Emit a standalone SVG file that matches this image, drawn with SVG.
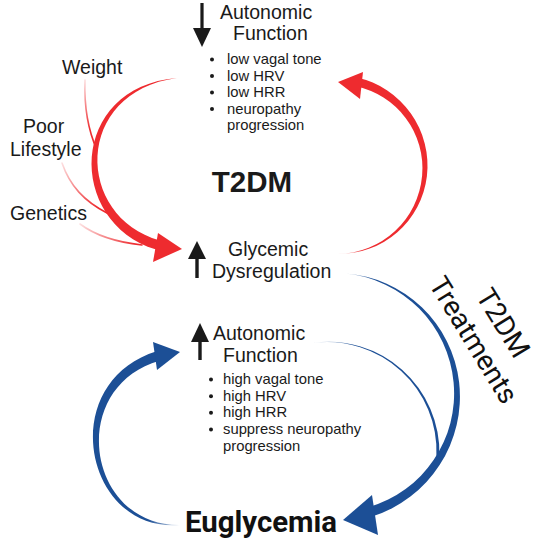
<svg xmlns="http://www.w3.org/2000/svg" width="539" height="550" viewBox="0 0 539 550">
<defs>
<style>
.t{font-family:"Liberation Sans",Arial,sans-serif;fill:#1a1a1a}
.lg{font-size:19.5px}
.sm{font-size:14.8px}
.bd{font-weight:bold}
.rb{font-family:Roboto,"Liberation Sans",sans-serif;fill:#111}
.ar{fill:#1a1a1a}
.bul{fill:#1a1a1a}
.red{fill:#EE2B2F}
.blue{fill:#1C4F96}
.thin{fill:none;stroke-width:1.6;stroke-linecap:round}
</style>
<linearGradient id="gRedR" gradientUnits="userSpaceOnUse" x1="336" y1="255" x2="362" y2="248"><stop offset="0" stop-color="#EE2B2F" stop-opacity="0.1"/><stop offset="1" stop-color="#EE2B2F"/></linearGradient>
<linearGradient id="gBlueL" gradientUnits="userSpaceOnUse" x1="182" y1="526" x2="148" y2="522"><stop offset="0" stop-color="#1C4F96" stop-opacity="0.1"/><stop offset="1" stop-color="#1C4F96"/></linearGradient>
<linearGradient id="gBlueBig" gradientUnits="userSpaceOnUse" x1="343" y1="274" x2="372" y2="281"><stop offset="0" stop-color="#1C4F96" stop-opacity="0.15"/><stop offset="1" stop-color="#1C4F96"/></linearGradient>
<linearGradient id="gBlueIn" gradientUnits="userSpaceOnUse" x1="311" y1="343" x2="350" y2="347"><stop offset="0" stop-color="#1C4F96" stop-opacity="0.1"/><stop offset="1" stop-color="#1C4F96"/></linearGradient>
<linearGradient id="gW" gradientUnits="userSpaceOnUse" x1="85" y1="80" x2="90" y2="130"><stop offset="0" stop-color="#EE2B2F" stop-opacity="0.15"/><stop offset="1" stop-color="#EE2B2F"/></linearGradient>
<linearGradient id="gL" gradientUnits="userSpaceOnUse" x1="62" y1="163" x2="98" y2="207"><stop offset="0" stop-color="#EE2B2F" stop-opacity="0.15"/><stop offset="1" stop-color="#EE2B2F"/></linearGradient>
<linearGradient id="gG" gradientUnits="userSpaceOnUse" x1="80" y1="224" x2="135" y2="244"><stop offset="0" stop-color="#EE2B2F" stop-opacity="0.15"/><stop offset="1" stop-color="#EE2B2F"/></linearGradient>
</defs>
<rect width="539" height="550" fill="#fff"/>

<g id="connectors">
  <path class="red" d="M177,78 C68,87 66,222 156.1,249.6 L159.9,240.4 C75,217 73,92 177,78 Z"/>
  <polygon class="red" points="182,249 158,233 153,262"/>
  <path class="thin" stroke="url(#gW)" d="M85,80 C84,108 88,130 97,150"/>
  <path class="thin" stroke="url(#gL)" d="M62,163 C70,186 84,201 107,213"/>
  <path class="thin" stroke="url(#gG)" d="M80,224 C96,236 115,242 142,245"/>
  <path fill="url(#gRedR)" d="M338,254 A88.2,88.2 0 0 0 426.9,176.3 A90.5,90.5 0 0 0 357,77.5 L355.2,86.3 A83.6,83.6 0 0 1 422.1,175.8 A85.8,85.8 0 0 1 338,254 Z"/>
  <polygon class="red" points="338,82 363,72 360,99"/>
  <path fill="url(#gBlueBig)" d="M345.6,273.5 A123.4,123.4 0 0 1 459.1,382 A125.9,125.9 0 0 1 372.1,516.5 L369.2,506.9 A118.1,118.1 0 0 0 453.6,382.5 A120.6,120.6 0 0 0 345.6,273.5 Z"/>
  <path fill="url(#gBlueIn)" d="M313,343 A110.4,110.4 0 0 1 402.1,369.7 A111.2,111.2 0 0 1 439.4,455.9 L436.4,455.8 A108.8,108.8 0 0 0 401.1,370.9 A109.6,109.6 0 0 0 313,343 Z"/>
  <polygon class="blue" points="343,520 372,495 378,535"/>
  <path fill="url(#gBlueL)" d="M180,525 C84,533 55,383 156.6,351.2 L159.4,360.8 C66,388 87,526 180,525 Z"/>
  <polygon class="blue" points="180,352 153,342 157,370"/>
</g>

<g id="node-autonomic-low">
  <rect class="ar" x="200.4" y="3" width="3.2" height="27"/>
  <polygon class="ar" points="193,28 211,28 202,47"/>
  <text class="t lg" x="220" y="19">Autonomic</text>
  <text class="t lg" x="233" y="40">Function</text>
  <circle class="bul" cx="212" cy="59.5" r="2"/>
  <circle class="bul" cx="212" cy="76" r="2"/>
  <circle class="bul" cx="212" cy="92.5" r="2"/>
  <circle class="bul" cx="212" cy="109" r="2"/>
  <text class="t sm" x="227" y="64">low vagal tone</text>
  <text class="t sm" x="227" y="80.5">low HRV</text>
  <text class="t sm" x="227" y="97">low HRR</text>
  <text class="t sm" x="227" y="113.5">neuropathy</text>
  <text class="t sm" x="227" y="130">progression</text>
</g>

<g id="node-weight"><text class="t lg" x="62" y="74">Weight</text></g>
<g id="node-lifestyle">
  <text class="t lg" x="23" y="133">Poor</text>
  <text class="t lg" x="10" y="156">Lifestyle</text>
</g>
<g id="node-genetics"><text class="t lg" x="10" y="220">Genetics</text></g>

<g id="node-t2dm"><text class="t bd" x="252" y="192" font-size="29.5" text-anchor="middle">T2DM</text></g>

<g id="node-glycemic">
  <polygon class="ar" points="197,241 188,259 206,259"/>
  <rect class="ar" x="195.3" y="258" width="3.4" height="20"/>
  <text class="t lg" x="228" y="256">Glycemic</text>
  <text class="t lg" x="212" y="278">Dysregulation</text>
</g>

<g id="node-treatments" transform="translate(465.5,345) rotate(58.5)">
  <text class="rb" x="1" y="-34" font-size="28" text-anchor="middle">T2DM</text>
  <text class="rb" x="0" y="0" font-size="28" text-anchor="middle">Treatments</text>
</g>

<g id="node-autonomic-high">
  <polygon class="ar" points="200,323 191,342 209,342"/>
  <rect class="ar" x="198.3" y="341" width="3.4" height="19"/>
  <text class="t lg" x="213" y="340">Autonomic</text>
  <text class="t lg" x="223" y="362">Function</text>
  <circle class="bul" cx="211" cy="379.5" r="2"/>
  <circle class="bul" cx="211" cy="396.2" r="2"/>
  <circle class="bul" cx="211" cy="412.8" r="2"/>
  <circle class="bul" cx="211" cy="429.5" r="2"/>
  <text class="t sm" x="223" y="384">high vagal tone</text>
  <text class="t sm" x="223" y="400.7">high HRV</text>
  <text class="t sm" x="223" y="417.3">high HRR</text>
  <text class="t sm" x="223" y="434">suppress neuropathy</text>
  <text class="t sm" x="223" y="450.7">progression</text>
</g>

<g id="node-euglycemia"><text class="rb" x="185" y="532" font-size="30" font-weight="bold" textLength="152" lengthAdjust="spacingAndGlyphs">Euglycemia</text></g>
</svg>
